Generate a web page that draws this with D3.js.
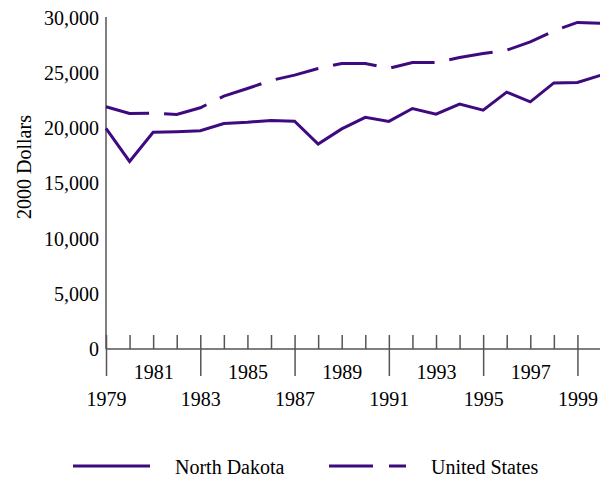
<!DOCTYPE html>
<html>
<head>
<meta charset="utf-8">
<script src="https://cdn.jsdelivr.net/npm/d3@7"></script>
<style>
  body { margin: 0; background: #fff; }
  svg text { font-family: "Liberation Serif", "Times New Roman", Times, "DejaVu Serif", serif !important; fill: #000; }
</style>
</head>
<body>
<svg id="chart" width="600" height="480"></svg>
<script>
// data
var years = d3.range(1979, 2001);
var northDakota = [20000, 17000, 19650, 19700, 19780, 20440, 20550, 20720, 20650, 18570,
	19950, 21000, 20630, 21800, 21290, 22190, 21650, 23280, 22400, 24120, 24160, 24820];
var unitedStates = [21950, 21350, 21380, 21260, 21860, 22920, 23610, 24340, 24820, 25420,
	25880, 25880, 25430, 25970, 25970, 26420, 26780, 27080, 27840, 28830, 29600, 29530];
var yTicks = [0, 5000, 10000, 15000, 20000, 25000, 30000];
var lowerLabels = [1979, 1983, 1987, 1991, 1995, 1999];
var upperLabels = [1981, 1985, 1989, 1993, 1997];
var seriesNames = ["North Dakota", "United States"];

var purple = "#3f0a80";
var axisGray = "#555";
var serif = "'Liberation Serif', 'Times New Roman', Times, serif";

var svg = d3.select("#chart");

var x = d3.scaleLinear().domain([1979, 2000]).range([106, 601]);
var y = d3.scaleLinear().domain([0, 30000]).range([349, 18]);

// y axis: labels only, plus the vertical line
var yAxis = svg.append("g")
	.attr("transform", "translate(106,0)")
	.call(d3.axisLeft(y)
		.tickValues(yTicks)
		.tickSize(0)
		.tickPadding(7)
		.tickFormat(d3.format(",")));
yAxis.select(".domain").remove();

svg.append("line")
	.attr("x1", 106).attr("x2", 106)
	.attr("y1", y(30000) - 1).attr("y2", y(0))
	.attr("stroke", axisGray).attr("stroke-width", 1.5);

// x axis: minor ticks every year (upward)
var xMinor = svg.append("g")
	.attr("transform", "translate(0," + y(0) + ")")
	.call(d3.axisBottom(x)
		.tickValues(years)
		.tickSizeInner(-14)
		.tickSizeOuter(0)
		.tickFormat(""));
xMinor.select(".domain").attr("d", "M106,0H601");

// major ticks every 4 years (downward part)
var xMajor = svg.append("g")
	.attr("transform", "translate(0," + y(0) + ")")
	.call(d3.axisBottom(x)
		.tickValues(lowerLabels)
		.tickSizeInner(27)
		.tickSizeOuter(0)
		.tickFormat(""));
xMajor.select(".domain").remove();

// two rows of year labels
var xUpper = svg.append("g")
	.attr("transform", "translate(0," + y(0) + ")")
	.call(d3.axisBottom(x).tickValues(upperLabels).tickSize(0).tickPadding(16).tickFormat(d3.format("d")));
xUpper.select(".domain").remove();

var xLower = svg.append("g")
	.attr("transform", "translate(0," + y(0) + ")")
	.call(d3.axisBottom(x).tickValues(lowerLabels).tickSize(0).tickPadding(43).tickFormat(d3.format("d")));
xLower.select(".domain").remove();

svg.selectAll("g").attr("font-family", serif).attr("font-size", 20);
svg.selectAll(".tick text").attr("font-family", serif).attr("font-size", 20);
svg.selectAll(".domain, .tick line").attr("stroke", axisGray).attr("stroke-width", 1.5);

// y axis title
svg.append("text")
	.attr("transform", "translate(31,167) rotate(-90)")
	.attr("text-anchor", "middle")
	.attr("font-family", serif)
	.attr("font-size", 20)
	.text("2000 Dollars");

// lines
var line = d3.line()
	.x(function(d, i) { return x(years[i]); })
	.y(function(d) { return y(d); });

svg.append("path")
	.datum(northDakota)
	.attr("d", line)
	.attr("fill", "none")
	.attr("stroke", purple)
	.attr("stroke-width", 3);

svg.append("path")
	.datum(unitedStates)
	.attr("d", line)
	.attr("fill", "none")
	.attr("stroke", purple)
	.attr("stroke-width", 3)
	.attr("stroke-dasharray", "44,15");

// legend
var legend = svg.selectAll(".legend")
	.data(seriesNames)
	.enter()
	.append("g")
	.attr("class", "legend")
	.attr("transform", function(d, i) { return "translate(" + (73 + i * 256) + ",466)"; });

legend.append("line")
	.attr("x1", 0).attr("x2", 77)
	.attr("y1", 0).attr("y2", 0)
	.attr("stroke", purple)
	.attr("stroke-width", 3)
	.attr("stroke-dasharray", function(d, i) { return i == 1 ? "44,16" : null; });

legend.append("text")
	.attr("x", 102)
	.attr("y", 8)
	.attr("font-family", serif)
	.attr("font-size", 20)
	.text(function(d) { return d; });
</script>
</body>
</html>
